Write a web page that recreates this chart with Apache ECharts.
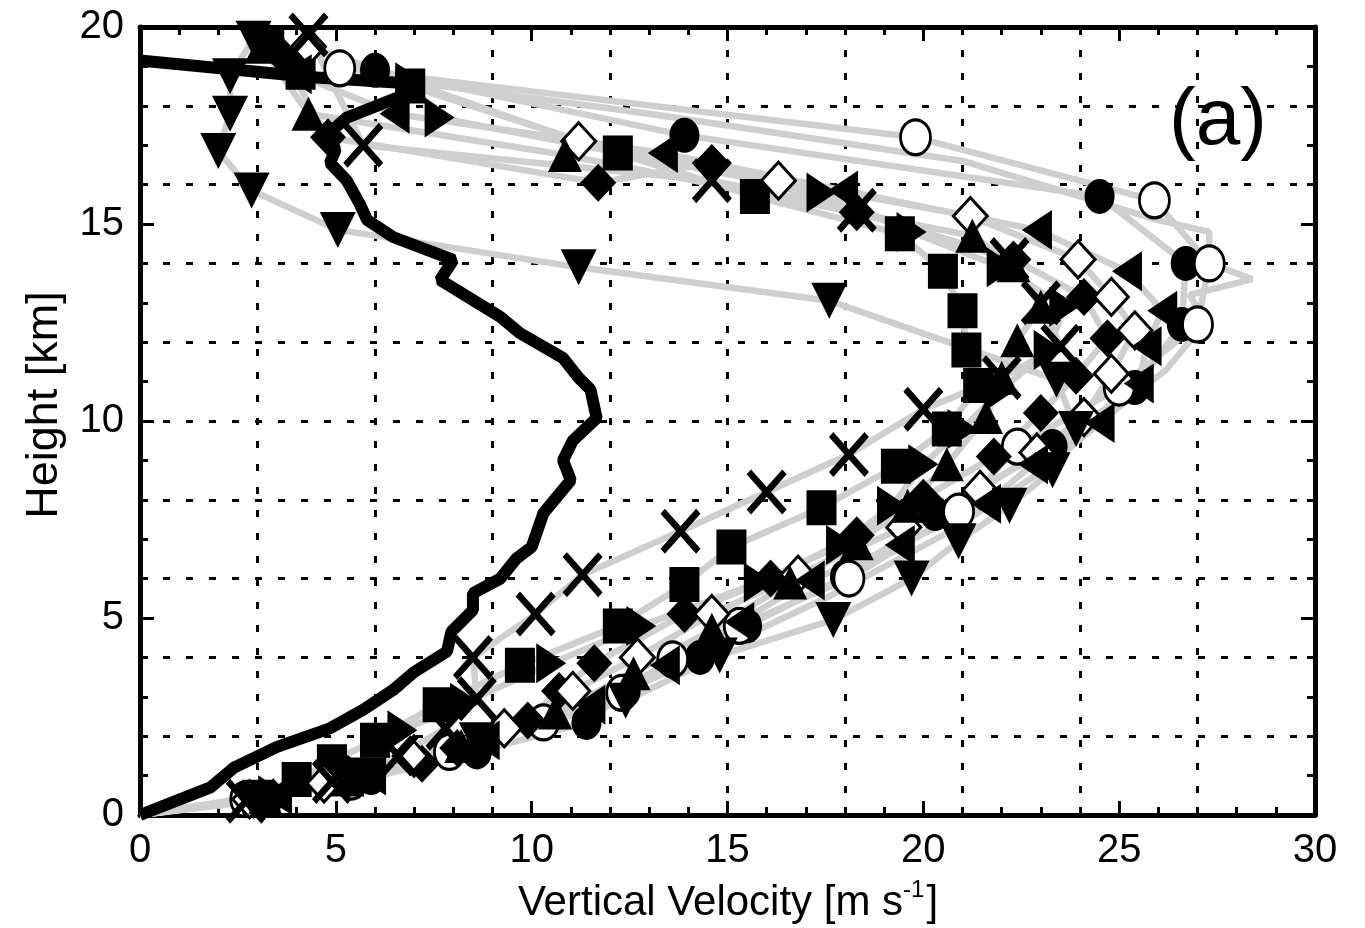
<!DOCTYPE html>
<html><head><meta charset="utf-8">
<script src="https://cdn.jsdelivr.net/npm/echarts@6/dist/echarts.min.js"></script>
<style>html,body{margin:0;padding:0;background:#fff}#c{width:1365px;height:928px}</style>
</head><body><div id="c"></div>
<script>
// ---- data (x = vertical velocity m/s, y = height km) ----
const xTickValues = [0, 5, 10, 15, 20, 25, 30];
const yTickValues = [0, 5, 10, 15, 20];

const meanProfile = [[0,0],[1.8,0.7],[2.4,1.2],[3.5,1.73],[4.85,2.2],[5.7,2.67],[6.46,3.17],[7.0,3.63],[7.84,4.15],[7.95,4.65],[8.5,5.2],[8.5,5.63],[9.2,6.0],[9.6,6.5],[10.0,6.8],[10.3,7.66],[11.0,8.5],[10.8,9.0],[11.05,9.5],[11.66,10.07],[11.5,10.8],[11.2,11.1],[10.8,11.6],[9.7,12.23],[9.2,12.64],[7.66,13.58],[8.0,14.09],[6.46,14.67],[5.8,15.1],[5.6,15.53],[5.28,16.1],[4.85,16.55],[5.0,16.9],[4.7,17.2],[5.28,17.7],[6.56,18.2],[7.15,18.55],[4.5,18.72],[0,19.15]];

const circleFilled = [[3.1,0.45],[5.9,0.95],[8.6,1.6],[11.4,2.35],[12.4,3.15],[14.3,4.0],[15.5,4.8],[18.0,6.05],[20.3,7.65],[23.3,9.35],[25.4,10.85],[26.6,12.45],[26.7,14.0],[24.5,15.7],[13.9,17.25],[6.0,18.9]];
const circleOpen = [[2.7,0.4],[5.4,0.85],[7.9,1.6],[10.3,2.35],[12.3,3.1],[13.6,3.95],[15.3,4.8],[18.1,6.0],[20.9,7.7],[22.4,9.35],[25.0,10.85],[27.0,12.45],[27.3,14.0],[25.9,15.6],[19.8,17.2],[5.1,18.95]];
const squareFilled = [[3.0,0.45],[4.0,0.9],[4.9,1.35],[6.0,1.9],[7.6,2.8],[9.7,3.8],[12.2,4.8],[13.9,5.85],[15.1,6.8],[17.4,7.8],[19.3,8.85],[20.6,9.8],[21.4,10.9],[21.1,11.8],[21.0,12.8],[20.5,13.8],[19.4,14.75],[15.7,15.7],[12.2,16.8],[6.9,18.5],[4.1,18.85],[3.3,19.6]];
const diamondFilled = [[3.4,0.45],[5.6,0.9],[7.2,1.3],[8.1,1.7],[9.9,2.4],[10.7,3.15],[11.6,3.85],[13.9,5.1],[16.1,6.0],[18.3,7.1],[20.0,8.05],[21.8,9.1],[23.0,10.2],[23.9,11.15],[24.7,12.1],[24.1,13.15],[22.3,14.1],[18.3,15.3],[14.6,16.55],[11.7,16.05],[4.8,17.2],[3.6,19.3]];
const diamondOpen = [[2.8,0.4],[4.7,0.8],[6.9,1.5],[9.3,2.2],[11.05,3.15],[12.7,4.0],[14.6,5.1],[16.8,6.1],[19.5,7.3],[21.45,8.25],[22.9,9.2],[24.1,10.1],[24.8,11.2],[25.4,12.3],[24.8,13.15],[23.95,14.1],[21.2,15.2],[16.3,16.1],[11.2,17.1],[4.3,19.5]];
const triUp = [[3.2,0.45],[5.3,0.9],[8.2,1.75],[10.6,2.6],[12.6,3.6],[14.6,4.7],[16.6,5.9],[18.3,6.9],[19.6,7.85],[20.6,8.9],[21.6,10.1],[22.0,11.1],[22.4,12.05],[23.0,12.9],[22.3,13.95],[21.25,14.7],[10.85,16.75],[4.3,17.8],[3.1,19.5]];
const triDown = [[2.9,0.35],[5.8,1.0],[8.6,1.9],[12.4,2.9],[14.8,4.05],[17.7,4.95],[19.7,6.0],[20.9,6.95],[22.2,7.85],[23.3,8.75],[23.9,9.8],[23.4,11.05],[17.6,13.05],[11.2,13.9],[5.05,14.85],[2.85,15.85],[2.0,16.85],[2.3,17.8],[2.3,18.75],[2.9,19.7]];
const triLeft = [[3.5,0.5],[5.9,1.0],[8.8,1.9],[11.5,2.8],[13.4,3.8],[15.3,4.9],[17.1,5.95],[19.4,6.85],[21.6,7.9],[22.8,8.9],[24.5,9.95],[25.5,10.95],[25.7,11.9],[26.1,12.8],[25.2,13.8],[22.9,14.85],[17.95,15.85],[13.35,16.8],[6.5,17.8],[4.0,18.8]];
const triRight = [[3.4,0.5],[5.4,1.2],[6.7,2.15],[8.3,2.85],[10.5,3.85],[12.8,4.8],[15.8,5.9],[17.9,6.85],[19.2,7.85],[20.0,8.9],[21.0,9.8],[22.0,10.8],[23.2,11.8],[23.6,12.9],[22.0,13.9],[19.7,14.8],[17.4,15.8],[7.65,17.7],[6.9,18.6]];
const crossMarks = [[2.7,0.35],[4.9,0.85],[6.6,1.5],[7.8,2.2],[8.6,2.95],[8.5,4.0],[10.1,5.1],[11.3,6.1],[13.8,7.2],[16.0,8.2],[18.1,9.15],[20.0,10.3],[22.0,11.1],[23.5,11.9],[23.0,13.0],[22.2,14.1],[18.3,15.35],[14.6,16.1],[5.7,17.0],[4.3,19.8]];
const grayOnlyProfile = [[0,0],[2.5,0.4],[5.5,1.0],[8.5,1.9],[11.5,2.9],[14.5,4.1],[17.5,5.5],[20.5,7.1],[23,8.7],[24.8,10.2],[26.2,11.3],[27.2,12.5],[26.8,13.2],[28.4,13.6],[27.3,14.0],[27.3,14.8],[26.0,15.1],[21.0,16.6],[13,17.8],[7,18.6],[4,19.6]];

const FONT = "'Liberation Sans Narrow','Liberation Sans',Arial,sans-serif";
const XPATH = 'path://M0,1.1L1.1,0L5,3.9L8.9,0L10,1.1L6.1,5L10,8.9L8.9,10L5,6.1L1.1,10L0,8.9L3.9,5Z';

const markerDefs = [
  {data: circleFilled, symbol: 'circle', size: [30,35], rot: 0, open: false},
  {data: circleOpen, symbol: 'circle', size: [30,35], rot: 0, open: true},
  {data: squareFilled, symbol: 'rect', size: [30,35], rot: 0, open: false},
  {data: diamondFilled, symbol: 'diamond', size: [36,38], rot: 0, open: false},
  {data: diamondOpen, symbol: 'diamond', size: [34,37], rot: 0, open: true},
  {data: triUp, symbol: 'triangle', size: [34,34], rot: 0, open: false},
  {data: triDown, symbol: 'triangle', size: [36,36], rot: 180, open: false},
  {data: triLeft, symbol: 'triangle', size: [40,30], rot: 90, open: false},
  {data: triRight, symbol: 'triangle', size: [40,30], rot: -90, open: false},
  {data: crossMarks, symbol: XPATH, size: [40,45], rot: 0, open: false}
];

const series = [];
// gray individual profiles
markerDefs.forEach(d => {
  series.push({type: 'line', data: [[0,0]].concat(d.data), symbol: 'none', silent: true, z: 2,
    lineStyle: {color: '#cfcfcf', width: 6.5}});
});
series.push({type: 'line', data: grayOnlyProfile, symbol: 'none', silent: true, z: 2,
  lineStyle: {color: '#cfcfcf', width: 6.5}});
// thick black mean profile
series.push({type: 'line', data: meanProfile, symbol: 'none', silent: true, z: 3,
  lineStyle: {color: '#000', width: 12}});
// markers
markerDefs.forEach(d => {
  series.push({type: 'scatter', data: d.data, symbol: d.symbol, symbolSize: d.size, symbolRotate: d.rot,
    silent: true, z: 4,
    itemStyle: d.open ? {color: '#fff', borderColor: '#000', borderWidth: 3, opacity: 1}
                      : {color: '#000', opacity: 1}});
});

function mainAxis(pos, showLabel, isX) {
  return {
    type: 'value', position: pos, min: 0, max: isX ? 30 : 20, interval: 5,
    axisLine: {show: true, onZero: false, lineStyle: {color: '#000', width: 5}},
    axisTick: {show: true, inside: true, length: 14, lineStyle: {color: '#000', width: 3}},
    minorTick: {show: true, splitNumber: 5, length: 8, lineStyle: {color: '#000', width: 3}},
    axisLabel: {show: showLabel, color: '#000', fontSize: 40, fontFamily: FONT, margin: isX ? 16 : 16},
    splitLine: {show: false}, minorSplitLine: {show: false}
  };
}
function gridAxis(pos, isX) {
  return {
    type: 'value', position: pos, min: 0, max: isX ? 30 : 20, interval: isX ? 3 : 2,
    axisLine: {show: false}, axisTick: {show: false}, axisLabel: {show: false},
    splitLine: {show: true, lineStyle: {color: '#000', width: 3, type: [7, 16]}}
  };
}

const option = {
  animation: false,
  backgroundColor: '#fff',
  grid: {left: 140, right: 50, top: 27, bottom: 113, containLabel: false},
  xAxis: [mainAxis('bottom', true, true), mainAxis('top', false, true), gridAxis('bottom', true)],
  yAxis: [mainAxis('left', true, false), mainAxis('right', false, false), gridAxis('left', false)],
  series: series,
  graphic: [
    {type: 'text', x: 728, y: 903, style: {
      text: '{a|Vertical Velocity [m s}{b|-1}{a|]}', textAlign: 'center', textVerticalAlign: 'middle',
      rich: {a: {fontSize: 42, fontFamily: FONT, fill: '#000'},
             b: {fontSize: 24, fontFamily: FONT, fill: '#000', padding: [0, 2, 26, 0]}}}},
    {type: 'text', x: 45, y: 405, rotation: Math.PI / 2, style: {
      text: 'Height [km]', textAlign: 'center', textVerticalAlign: 'middle',
      fontSize: 45, fontFamily: FONT, fill: '#000'}},
    {type: 'text', x: 1218, y: 122, style: {
      text: '(a)', textAlign: 'center', textVerticalAlign: 'middle',
      fontSize: 80, fontFamily: FONT, fill: '#000'}}
  ]
};
const chart = echarts.init(document.getElementById('c'), null, {renderer: 'canvas'});
chart.setOption(option);
</script></body></html>
